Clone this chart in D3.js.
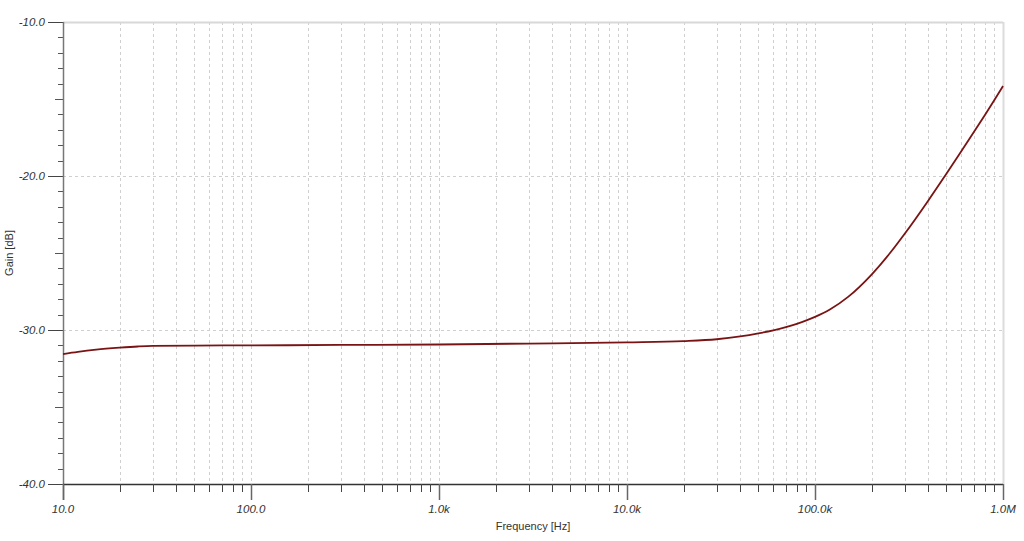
<!DOCTYPE html>
<html><head><meta charset="utf-8">
<script src="https://cdn.jsdelivr.net/npm/d3@7/dist/d3.min.js"></script>
<style>body{margin:0;background:#fff}svg{display:block}text{font-family:"Liberation Sans",Arial,sans-serif}</style>
</head><body><svg id="c" width="1024" height="541"></svg>
<script>
const freqs = [10,12,15,20,25,30,50,100,300,1000,3000,10000,20000,30000,40000,50000,60000,70000,80000,90000,100000,120000,150000,200000,250000,300000,400000,500000,600000,700000,800000,900000,1000000];
const gains = [-31.56,-31.42,-31.28,-31.15,-31.07,-31.03,-31.01,-31.00,-30.97,-30.94,-30.88,-30.80,-30.72,-30.60,-30.42,-30.22,-30.02,-29.81,-29.60,-29.38,-29.15,-28.67,-27.85,-26.40,-25.02,-23.75,-21.60,-19.85,-18.40,-17.15,-16.05,-15.06,-14.16];
const xTickValues = [10,100,1000,10000,100000,1000000];
const xTickLabels = ["10.0","100.0","1.0k","10.0k","100.0k","1.0M"];
const yTickValues = [-10,-20,-30,-40];
const yTickLabels = ["-10.0","-20.0","-30.0","-40.0"];

const svg = d3.select("#c");
const L=63,R=1003,T=22,B=484;
const x = d3.scaleLog().domain([10,1e6]).range([L,R]);
const y = d3.scaleLinear().domain([-40,-10]).range([B,T]);

const minorF=[];
for(let d=10; d<1e6; d*=10) for(let k=2;k<=9;k++) minorF.push(d*k);
const allF = minorF.concat(xTickValues.slice(1,-1));

svg.append("g").selectAll("line").data(allF).join("line")
 .attr("x1",d=>Math.round(x(d))+0.5).attr("x2",d=>Math.round(x(d))+0.5).attr("y1",T).attr("y2",B)
 .attr("stroke","#cfcfcf").attr("stroke-dasharray","3,3").attr("stroke-width",1);
svg.append("g").selectAll("line").data([-20,-30]).join("line")
 .attr("x1",L).attr("x2",R).attr("y1",d=>Math.round(y(d))+0.5).attr("y2",d=>Math.round(y(d))+0.5)
 .attr("stroke","#cfcfcf").attr("stroke-dasharray","3,3").attr("stroke-width",1);
svg.append("line").attr("x1",L).attr("x2",R).attr("y1",y(-10)+0.5).attr("y2",y(-10)+0.5).attr("stroke","#d8d8d8").attr("stroke-width",2);
svg.append("line").attr("x1",R+0.5).attr("x2",R+0.5).attr("y1",T).attr("y2",B).attr("stroke","#dcdcdc").attr("stroke-width",2);

const yMinor = d3.range(-40,-9,1);
svg.append("g").selectAll("line").data(yMinor).join("line")
 .attr("x1",d=> d%10===0 ? L-15 : (d%5===0 ? L-8 : L-5)).attr("x2",L)
 .attr("y1",d=>Math.round(y(d))+0.5).attr("y2",d=>Math.round(y(d))+0.5)
 .attr("stroke",d=>d%10===0?"#444":"#555").attr("stroke-width",1);
svg.append("line").attr("x1",L+0.5).attr("x2",L+0.5).attr("y1",T).attr("y2",B+16).attr("stroke","#777").attr("stroke-width",1.5);
svg.append("g").selectAll("text").data(yTickValues).join("text")
 .attr("x",L-18).attr("y",d=>y(d)+4).attr("text-anchor","end")
 .attr("font-size",11.5).attr("font-style","italic").attr("fill","#333")
 .text((d,i)=>yTickLabels[i]);

svg.append("line").attr("x1",L).attr("x2",R).attr("y1",B+0.5).attr("y2",B+0.5).attr("stroke","#333").attr("stroke-width",1.3);
svg.append("g").selectAll("line").data(minorF).join("line")
 .attr("x1",d=>Math.round(x(d))+0.5).attr("x2",d=>Math.round(x(d))+0.5).attr("y1",B).attr("y2",B+8)
 .attr("stroke","#444");
svg.append("g").selectAll("line").data(xTickValues).join("line")
 .attr("x1",d=>Math.round(x(d))+0.5).attr("x2",d=>Math.round(x(d))+0.5).attr("y1",B).attr("y2",B+16)
 .attr("stroke","#666").attr("stroke-width",1.5);
svg.append("g").selectAll("text").data(xTickValues).join("text")
 .attr("x",d=>x(d)).attr("y",B+29).attr("text-anchor","middle")
 .attr("font-size",11.5).attr("font-style","italic").attr("fill","#333")
 .text((d,i)=>xTickLabels[i]);

svg.append("text").attr("x",(L+R)/2).attr("y",530).attr("text-anchor","middle")
 .attr("font-size",11).attr("fill","#333").text("Frequency [Hz]");
svg.append("text").attr("transform","translate(13,"+((T+B)/2)+") rotate(-90)").attr("text-anchor","middle")
 .attr("font-size",11).attr("fill","#333").text("Gain [dB]");

const data = freqs.map((f,i)=>[f,gains[i]]);
svg.append("path").datum(data)
 .attr("d",d3.line().x(d=>x(d[0])).y(d=>y(d[1])).curve(d3.curveMonotoneX))
 .attr("fill","none").attr("stroke","#7a1414").attr("stroke-width",1.8);
</script></body></html>
